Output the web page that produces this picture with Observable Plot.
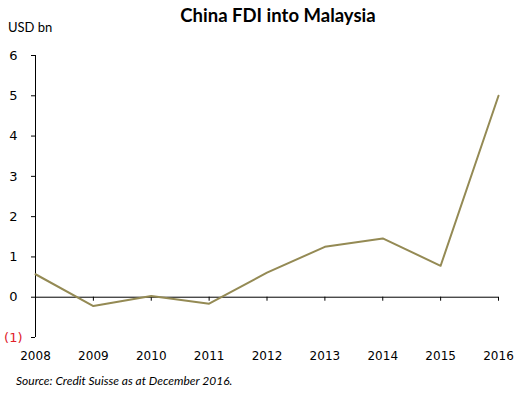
<!DOCTYPE html>
<html>
<head>
<meta charset="utf-8">
<script src="https://cdn.jsdelivr.net/npm/d3@7"></script>
<script src="https://cdn.jsdelivr.net/npm/@observablehq/plot@0.6"></script>
<style>
  body { margin: 0; background: #fff; }
  #wrap { position: relative; width: 521px; height: 396px; overflow: hidden; background: #fff; }
  #title { position: absolute; left: 0; width: 556px; top: 4px; text-align: center; font: bold 18.5px Lato, "Open Sans", sans-serif; color: #000; }
  #unit { position: absolute; left: 8px; top: 19px; font: 13px Lato, "Open Sans", sans-serif; color: #000; }
  #chart { position: absolute; left: 0; top: 44px; }
  #chart svg text { font-family: "DejaVu Sans", sans-serif; }
  #caption { position: absolute; left: 16px; top: 373px; font: italic 12px Lato, "Open Sans", sans-serif; color: #000; }
</style>
</head>
<body>
<div id="wrap">
  <div id="title">China FDI into Malaysia</div>
  <div id="unit">USD bn</div>
  <div id="chart"></div>
  <div id="caption">Source: Credit Suisse as at December 2016.</div>
</div>
<script>
const years = [2008, 2009, 2010, 2011, 2012, 2013, 2014, 2015, 2016];
const fdi = [0.57, -0.22, 0.03, -0.16, 0.61, 1.25, 1.46, 0.78, 5.0];
const yTicks = [-1, 0, 1, 2, 3, 4, 5, 6];

const data = years.map((y, i) => ({year: y, value: fdi[i]}));

const chart = Plot.plot({
  width: 521,
  height: 330,
  marginTop: 11,
  marginBottom: 37,
  marginLeft: 35,
  marginRight: 23,
  style: {fontFamily: "'DejaVu Sans', sans-serif", fontSize: "12px", color: "#000", background: "transparent"},
  x: {type: "linear", domain: [2008, 2016], label: null},
  y: {domain: [-1, 6], label: null},
  marks: [
    Plot.ruleX([2008], {stroke: "#000", strokeWidth: 1}),
    Plot.ruleY([0], {stroke: "#000", strokeWidth: 1}),
    Plot.ruleX(years.slice(1), {x: d => d, y1: 0, y2: 0, insetBottom: -4, stroke: "#000"}),
    Plot.axisY(yTicks.filter(d => d >= 0), {anchor: "left", label: null, tickSize: 4, tickPadding: 14, fontSize: 13, tickFormat: d => String(d), fill: "#000", stroke: "#000"}),
    Plot.axisY([-1], {anchor: "left", label: null, tickSize: 4, tickPadding: 9, fontSize: 13, tickFormat: d => `(${-d})`, fill: "#e0202a", stroke: "#000"}),
    Plot.axisX(years, {anchor: "bottom", label: null, tickSize: 0, tickPadding: 14, tickFormat: d => String(d), fill: "#000"}),
    Plot.line(data, {x: "year", y: "value", stroke: "#948a54", strokeWidth: 2})
  ]
});
document.getElementById("chart").appendChild(chart);
</script>
</body>
</html>
